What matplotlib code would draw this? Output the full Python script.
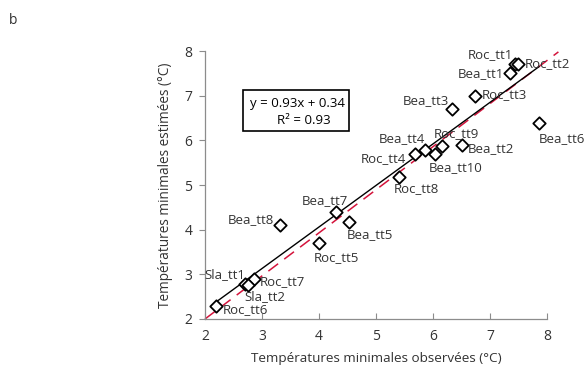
import matplotlib
matplotlib.use("Agg")
import matplotlib.pyplot as plt
from matplotlib.patches import Rectangle

plt.rcParams['font.family'] = ['Open Sans', 'DejaVu Sans']

labels = ["Roc_tt1", "Roc_tt2", "Bea_tt1", "Bea_tt3", "Roc_tt3", "Roc_tt9", "Bea_tt4",
          "Roc_tt4", "Bea_tt2", "Bea_tt10", "Bea_tt6", "Roc_tt8", "Bea_tt7", "Bea_tt8",
          "Bea_tt5", "Roc_tt5", "Sla_tt1", "Roc_tt7", "Sla_tt2", "Roc_tt6"]
observed = [7.44, 7.49, 7.35, 6.33, 6.74, 6.15, 5.86, 5.68, 6.5, 6.03, 7.86, 5.4, 4.29,
            3.32, 4.53, 4.0, 2.7, 2.86, 2.76, 2.2]
estimated = [7.7, 7.7, 7.5, 6.7, 7.0, 5.87, 5.78, 5.69, 5.89, 5.69, 6.38, 5.18, 4.4,
             4.1, 4.18, 3.7, 2.78, 2.89, 2.76, 2.3]
# label offsets in pixels and horizontal alignment
offsets = [(-25, 10, 'center'), (7, 1, 'left'), (-6, 0, 'right'), (-3, 9, 'right'),
           (7, 1, 'left'), (-8, 13, 'left'), (0, 12, 'right'), (-9, -4, 'right'),
           (6, -3, 'left'), (-6, -13, 'left'), (0, -15, 'left'), (-5, -12, 'left'),
           (-34, 11, 'left'), (-6, 6, 'right'), (-2, -13, 'left'), (-5, -14, 'left'),
           (0, 10, 'right'), (6, -2, 'left'), (-4, -12, 'left'), (6, -4, 'left')]

slope, intercept = 0.93, 0.34
r2 = 0.93
ref_line_x = [2.0, 8.2]
ref_line_y = [2.0, 7.98]

W, H = 585, 369
fig = plt.figure(figsize=(W / 100, H / 100), dpi=100)
ax = fig.add_axes([205 / W, 1 - 319 / H, (547 - 205) / W, (319 - 51) / H])

txtc = '#333333'
ax.plot(ref_line_x, ref_line_y, color='#d4143c', lw=1.1, dashes=(8, 5), clip_on=False, zorder=2)
xmin, xmax = min(observed), max(observed)
ax.plot([xmin, xmax], [slope * xmin + intercept, slope * xmax + intercept],
        color='black', lw=1.0, zorder=3)
ax.scatter(observed, estimated, marker='D', s=40, facecolors='white', edgecolors='black',
           linewidths=1.3, zorder=4, clip_on=False)

for lab, x, y, (dx, dy, ha) in zip(labels, observed, estimated, offsets):
    ax.annotate(lab, (x, y), xytext=(dx, dy), textcoords='offset pixels', ha=ha,
                va='center', fontsize=9.5, color=txtc, zorder=5, annotation_clip=False)

ax.set_xlim(2, 8)
ax.set_ylim(2, 8)
ax.set_xticks(range(2, 9))
ax.set_yticks(range(2, 9))
for s in ['top', 'right']:
    ax.spines[s].set_visible(False)
for s in ['left', 'bottom']:
    ax.spines[s].set_color('#8c8c8c')
    ax.spines[s].set_linewidth(0.9)
ax.tick_params(axis='x', direction='in', length=4, color='#8c8c8c', labelsize=10,
               labelcolor=txtc, pad=7)
ax.tick_params(axis='y', direction='out', length=4, color='#8c8c8c', labelsize=10,
               labelcolor=txtc, pad=5)
ax.set_xlabel('Températures minimales observées (°C)', fontsize=9.7, color=txtc, labelpad=6)
ax.set_ylabel('Températures minimales estimées (°C)', fontsize=9.8, color=txtc, labelpad=8)

# equation box
fig.patches.append(Rectangle((243 / W, 1 - 131 / H), (349 - 243) / W, (131 - 90) / H,
                             transform=fig.transFigure, fill=False, edgecolor='black',
                             lw=1.2))
fig.text(297 / W, 1 - 103 / H, f'y = {slope:.2f}x + {intercept:.2f}', ha='center',
         va='center', fontsize=9.5, color='black')
fig.text(304 / W, 1 - 121 / H, f'R² = {r2:.2f}', ha='center', va='center',
         fontsize=9.5, color='black')

fig.text(13 / W, 1 - 20 / H, 'b', ha='center', va='center', fontsize=10, color=txtc)

fig.savefig('out.png', dpi=100)
